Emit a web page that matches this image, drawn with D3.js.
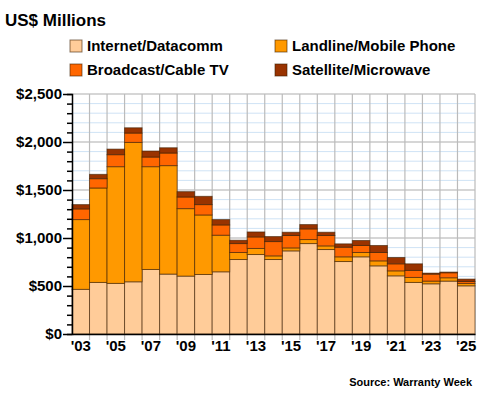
<!DOCTYPE html>
<html><head><meta charset="utf-8">
<script src="https://cdn.jsdelivr.net/npm/d3@7"></script>
<style>body{margin:0;background:#fff}text{font-family:Arial,"Liberation Sans",sans-serif}</style>
</head><body><svg id="c" width="480" height="400"></svg>
<script>
'use strict';

// ── データ ──
const years = d3.range(2003, 2026);
const internet  = [465, 537, 527, 544, 672, 624, 603, 620, 648, 776, 828, 776, 866, 942, 880, 755, 804, 710, 606, 537, 523, 551, 502];
const landline  = [1192, 1521, 1743, 1996, 1743, 1754, 1306, 1240, 1029, 849, 891, 814, 897, 984, 918, 804, 849, 762, 658, 589, 551, 586, 527];
const broadcast = [1303, 1618, 1868, 2093, 1843, 1885, 1427, 1348, 1136, 942, 1011, 963, 1026, 1095, 1026, 904, 922, 849, 731, 662, 624, 638, 547];
const satellite = [1348, 1663, 1926, 2148, 1906, 1940, 1483, 1434, 1192, 977, 1063, 1015, 1060, 1140, 1060, 939, 974, 922, 797, 731, 634, 645, 572];
// 上は累積値（上端）。系列の値は差分
const seriesNames = ['Internet/Datacomm', 'Landline/Mobile Phone', 'Broadcast/Cable TV', 'Satellite/Microwave'];
const seriesColors = ['#FFCC99', '#FF9900', '#FF6600', '#993300'];
const yTicks = [0, 500, 1000, 1500, 2000, 2500];

const svg = d3.select('#c');
const L = 72, R = 475, T = 94, B = 334;

const x = d3.scaleBand().domain(years).range([L, R]).padding(0);
const y = d3.scaleLinear().domain([0, 2500]).range([B, T]);

// グリッド
const grid = svg.append('g');
grid.selectAll('.minor').data(d3.range(100, 2600, 100).filter(v => v % 500)).join('line')
  .attr('x1', L).attr('x2', R).attr('y1', d => y(d)).attr('y2', d => y(d))
  .attr('stroke', '#cfe3f5').attr('stroke-width', 1);
grid.selectAll('.major').data(yTicks.slice(1)).join('line')
  .attr('x1', L).attr('x2', R).attr('y1', d => y(d)).attr('y2', d => y(d))
  .attr('stroke', '#c8c8c8').attr('stroke-width', 1.5);
grid.selectAll('.vert').data(years.slice(1).concat([null])).join('line')
  .attr('x1', (d, i) => L + (i + 1) * x.bandwidth()).attr('x2', (d, i) => L + (i + 1) * x.bandwidth())
  .attr('y1', T).attr('y2', B + 6)
  .attr('stroke', '#bbb').attr('stroke-width', 1.2);

// 積み上げ
const tops = [internet, landline, broadcast, satellite];
tops.forEach((arr, s) => {
  svg.append('g').selectAll('rect').data(years).join('rect')
    .attr('x', (d, i) => x(d))
    .attr('width', x.bandwidth())
    .attr('y', (d, i) => y(arr[i]))
    .attr('height', (d, i) => y(s ? tops[s - 1][i] : 0) - y(arr[i]))
    .attr('fill', seriesColors[s])
    .attr('stroke', 'rgba(60,30,0,0.6)')
    .attr('stroke-width', 1);
});

// Y軸
const yAxis = svg.append('g').attr('transform', `translate(${L},0)`)
  .call(d3.axisLeft(y).tickValues(d3.range(0, 2600, 100)).tickSize(5)
    .tickFormat(d => yTicks.includes(d) ? d3.format('$,')(d) : ''));
yAxis.select('.domain').attr('stroke', '#000').attr('stroke-width', 1.5);
yAxis.selectAll('.tick line').attr('stroke', '#000').attr('stroke-width', 1.5)
  .attr('x2', d => yTicks.includes(d) ? -9 : -5);
yAxis.selectAll('text').attr('font-size', 15).attr('font-weight', 'bold').attr('x', -10).attr('fill', '#000');

// X軸
const xAxis = svg.append('g').attr('transform', `translate(0,${B})`)
  .call(d3.axisBottom(x).tickSize(0).tickFormat(d => (d % 2 ? "'" + String(d).slice(2) : '')));
xAxis.select('.domain').attr('stroke', '#000').attr('stroke-width', 1.5);
xAxis.selectAll('text').attr('font-size', 15).attr('font-weight', 'bold').attr('dy', '0.95em').attr('fill', '#000');

// タイトル
svg.append('text').attr('x', 5).attr('y', 26).attr('font-size', 17).attr('font-weight', 'bold').text('US$ Millions');

// 凡例
const lg = svg.append('g').selectAll('g').data(seriesNames).join('g')
  .attr('transform', (d, i) => `translate(${i % 2 ? 275 : 70},${i < 2 ? 40 : 64})`);
lg.append('rect').attr('width', 12).attr('height', 12)
  .attr('fill', (d, i) => seriesColors[i]).attr('stroke', 'rgba(60,30,0,0.6)');
lg.append('text').attr('x', 17).attr('y', 11).attr('font-size', 15).attr('font-weight', 'bold').text(d => d);

svg.append('text').attr('x', 472).attr('y', 386).attr('text-anchor', 'end')
  .attr('font-size', 11).attr('font-weight', 'bold').text('Source: Warranty Week');
</script></body></html>
